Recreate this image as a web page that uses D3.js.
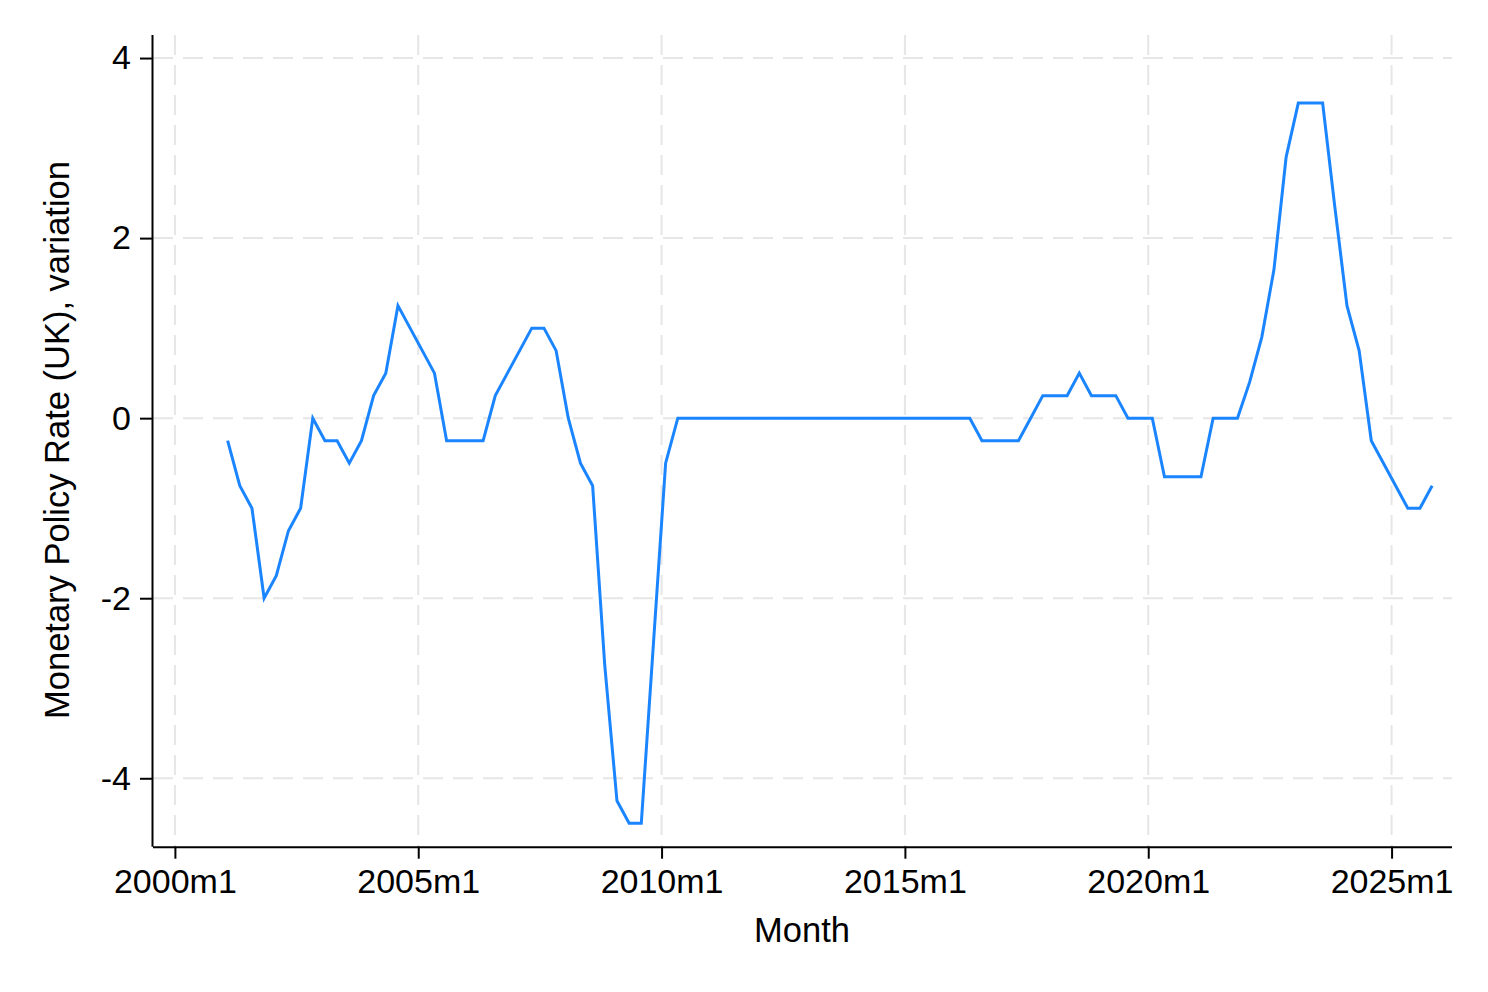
<!DOCTYPE html>
<html>
<head>
<meta charset="utf-8">
<script src="https://cdn.jsdelivr.net/npm/d3@7"></script>
<style>
  html, body { margin: 0; padding: 0; background: #ffffff; }
  svg { display: block; font-family: "Liberation Sans", Arial, Helvetica, sans-serif; }
</style>
</head>
<body>
<svg id="chart" width="1488" height="992"></svg>
<script>
// ---- Data (quarterly observations, first at 2001m2) ----
const startYear = 2001;
const startMonth = 2;          // month of first observation
const stepMonths = 3;          // quarterly
const rateVariation = [
  -0.25, -0.75, -1.0, -2.0, -1.75, -1.25, -1.0, 0.0,
  -0.25, -0.25, -0.5, -0.25, 0.25, 0.5, 1.25, 1.0,
  0.75, 0.5, -0.25, -0.25, -0.25, -0.25, 0.25, 0.5,
  0.75, 1.0, 1.0, 0.75, 0.0, -0.5, -0.75, -2.75,
  -4.25, -4.5, -4.5, -2.5, -0.5, 0.0,
  0, 0, 0, 0, 0, 0, 0, 0, 0, 0, 0, 0,
  0, 0, 0, 0, 0, 0, 0, 0, 0, 0, 0, 0,
  -0.25, -0.25, -0.25, -0.25, 0.0, 0.25, 0.25, 0.25,
  0.5, 0.25, 0.25, 0.25, 0.0, 0.0, 0.0,
  -0.65, -0.65, -0.65, -0.65, 0.0, 0.0, 0.0,
  0.4, 0.9, 1.65, 2.9, 3.5, 3.5, 3.5, 2.35,
  1.25, 0.75, -0.25, -0.5, -0.75, -1.0, -1.0, -0.75
];
const xTickYears = [2000, 2005, 2010, 2015, 2020, 2025];
const yTicks = [-4, -2, 0, 2, 4];
const xTitle = "Month";
const yTitle = "Monetary Policy Rate (UK), variation";

(function () {
// months since 2000m1
const baseYear = 2000;
const points = rateVariation.map((v, i) => ({
  t: (startYear - baseYear) * 12 + (startMonth - 1) + i * stepMonths,
  v: v
}));
const xTickMonths = xTickYears.map(yr => (yr - baseYear) * 12);

// ---- Layout ----
const svg = d3.select("#chart");
const pL = 153, pR = 1452, pT = 35, pB = 846.7;

const x = d3.scaleLinear().domain([-5.4, 314.9]).range([pL, pR]);
const y = d3.scaleLinear().domain([-4.76, 4.256]).range([pB, pT]);

const gridColor = "#e6e6e6";
const tickFont = 34;
const titleFont = 34.5;

// gridlines
svg.append("g").selectAll("line").data(yTicks).join("line")
  .attr("x1", pL).attr("x2", pR)
  .attr("y1", d => y(d)).attr("y2", d => y(d))
  .attr("stroke", gridColor).attr("stroke-width", 2)
  .attr("stroke-dasharray", "20,10");
svg.append("g").selectAll("line").data(xTickMonths).join("line")
  .attr("x1", d => x(d)).attr("x2", d => x(d))
  .attr("y1", pT).attr("y2", pB)
  .attr("stroke", gridColor).attr("stroke-width", 2)
  .attr("stroke-dasharray", "20,10");

// axes
const xAxis = d3.axisBottom(x)
  .tickValues(xTickMonths)
  .tickFormat(m => `${baseYear + Math.floor(m / 12)}m${(m % 12) + 1}`)
  .tickSize(12).tickPadding(11);
const gx = svg.append("g").attr("transform", `translate(0,${pB})`).call(xAxis);
gx.select(".domain").attr("d", `M${pL},0.5H${pR}`).attr("stroke", "#000").attr("stroke-width", 2);
gx.selectAll(".tick line").attr("stroke", "#000").attr("stroke-width", 2);
gx.selectAll(".tick text").attr("font-size", tickFont).attr("fill", "#000")
  .attr("font-family", "'Liberation Sans', Arial, sans-serif").attr("dy", "0.68em");

const yAxis = d3.axisLeft(y)
  .tickValues(yTicks)
  .tickFormat(d => String(d))
  .tickSize(13).tickPadding(9);
const gy = svg.append("g").attr("transform", `translate(${pL},0)`).call(yAxis);
gy.select(".domain").attr("d", `M-0.5,${pT}V${pB}`).attr("stroke", "#000").attr("stroke-width", 2);
gy.selectAll(".tick line").attr("stroke", "#000").attr("stroke-width", 2);
gy.selectAll(".tick text").attr("font-size", tickFont).attr("fill", "#000")
  .attr("font-family", "'Liberation Sans', Arial, sans-serif");

// line
const line = d3.line().x(d => x(d.t)).y(d => y(d.v));
svg.append("path").datum(points)
  .attr("d", line)
  .attr("fill", "none")
  .attr("stroke", "#1a85ff")
  .attr("stroke-width", 3)
  .attr("stroke-linejoin", "miter");

// titles
svg.append("text")
  .attr("x", 802).attr("y", 942)
  .attr("text-anchor", "middle")
  .attr("font-size", titleFont).attr("fill", "#000")
  .text(xTitle);
svg.append("text")
  .attr("transform", `translate(69,440) rotate(-90)`)
  .attr("text-anchor", "middle")
  .attr("font-size", titleFont).attr("fill", "#000")
  .text(yTitle);
})();
</script>
</body>
</html>
